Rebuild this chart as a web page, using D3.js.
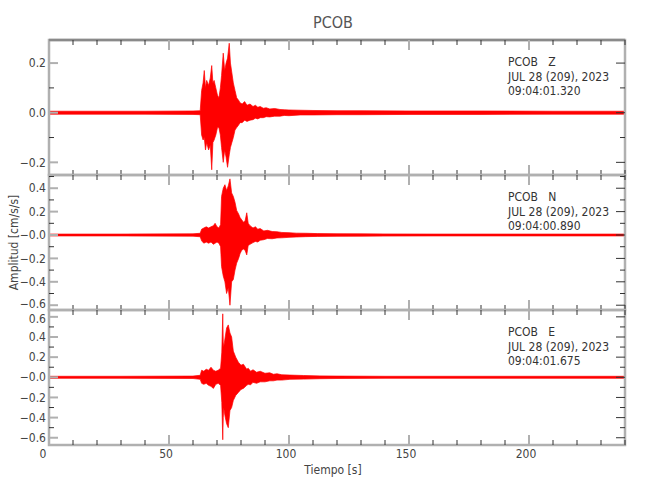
<!DOCTYPE html>
<html>
<head>
<meta charset="utf-8">
<script src="https://cdn.jsdelivr.net/npm/d3@7"></script>
<style>
  body { margin: 0; background: #fff; }
  svg text { font-family: "Liberation Sans Narrow", "DejaVu Sans Condensed", "Liberation Sans", sans-serif; fill: #444; }
</style>
</head>
<body>
<svg id="chart" width="650" height="500"></svg>
<script>
// station / header text
const station = 'PCOB'
const dateText = 'JUL 28 (209), 2023'

// time axis
const timeDomain = [0, 240]
const timeTicks = [0, 50, 100, 150, 200]
const timeMinor = d3.range(10, 241, 10).filter((t) => t % 50 !== 0)

// Z component: envelope (max / min per time point)
const zTime = [0, 20, 40, 60, 63, 63.6, 64.2, 64.7, 65.2, 65.7, 66.5, 67.2, 67.8, 68.3, 68.8, 69.5, 70.2, 70.8, 71.4, 71.9, 72.6, 73.2, 73.8, 74.4, 75.1, 75.6, 76.2, 76.8, 77.5, 78.2, 79.0, 79.6, 80.5, 81.5, 82.5, 83.75, 85, 86, 87, 88, 89.3, 90.5, 92, 94, 96.25, 98, 100, 104.6, 110, 120, 130, 150, 180, 210, 240]
const zHigh = [0.006, 0.006, 0.006, 0.007, 0.008, 0.09, 0.12, 0.17, 0.10, 0.13, 0.11, 0.14, 0.19, 0.12, 0.13, 0.10, 0.07, 0.06, 0.10, 0.15, 0.24, 0.17, 0.20, 0.22, 0.28, 0.20, 0.16, 0.12, 0.09, 0.06, 0.05, 0.04, 0.035, 0.045, 0.03, 0.035, 0.025, 0.03, 0.022, 0.025, 0.018, 0.02, 0.015, 0.017, 0.013, 0.012, 0.011, 0.01, 0.009, 0.008, 0.008, 0.007, 0.007, 0.006, 0.006]
const zLow = [-0.006, -0.006, -0.006, -0.007, -0.008, -0.09, -0.11, -0.10, -0.15, -0.12, -0.15, -0.13, -0.23, -0.12, -0.11, -0.09, -0.06, -0.06, -0.09, -0.14, -0.20, -0.15, -0.18, -0.22, -0.17, -0.14, -0.12, -0.10, -0.07, -0.06, -0.05, -0.04, -0.04, -0.03, -0.035, -0.03, -0.028, -0.022, -0.025, -0.02, -0.02, -0.016, -0.017, -0.014, -0.014, -0.011, -0.012, -0.009, -0.009, -0.008, -0.008, -0.007, -0.007, -0.006, -0.006]
const zDomain = [-0.251, 0.293]
const zTicks = [-0.2, 0, 0.2]
const zTickLabels = ['\u22120.2', '0.0', '0.2']
const zMinor = [-0.1, 0.1]

// N component
const nTime = [0, 30, 60, 63, 63.6, 64.5, 65.5, 66.5, 67.5, 68.5, 69.2, 70, 70.8, 71.5, 71.9, 72.6, 73.3, 74.0, 74.7, 75.4, 76.1, 76.8, 77.5, 78.2, 79.0, 79.6, 80.3, 81.0, 81.7, 82.4, 83, 83.75, 85, 86, 87, 88, 89.5, 91, 93, 95, 97, 100, 103, 107, 112, 120, 130, 140, 160, 200, 240]
const nHigh = [0.008, 0.008, 0.01, 0.015, 0.05, 0.06, 0.07, 0.06, 0.07, 0.08, 0.10, 0.07, 0.06, 0.09, 0.33, 0.40, 0.43, 0.38, 0.42, 0.48, 0.36, 0.33, 0.28, 0.21, 0.18, 0.15, 0.13, 0.11, 0.12, 0.19, 0.10, 0.08, 0.06, 0.07, 0.05, 0.055, 0.035, 0.04, 0.03, 0.028, 0.022, 0.02, 0.016, 0.015, 0.012, 0.011, 0.01, 0.009, 0.008, 0.008, 0.008]
const nLow = [-0.008, -0.008, -0.01, -0.015, -0.05, -0.07, -0.06, -0.07, -0.06, -0.08, -0.07, -0.06, -0.07, -0.10, -0.27, -0.35, -0.40, -0.50, -0.45, -0.60, -0.40, -0.38, -0.30, -0.24, -0.20, -0.16, -0.13, -0.12, -0.13, -0.17, -0.09, -0.08, -0.065, -0.055, -0.06, -0.045, -0.04, -0.03, -0.032, -0.025, -0.024, -0.02, -0.017, -0.014, -0.012, -0.011, -0.01, -0.009, -0.008, -0.008, -0.008]
const nDomain = [-0.641, 0.513]
const nTicks = [-0.6, -0.4, -0.2, 0, 0.2, 0.4]
const nTickLabels = ['\u22120.6', '\u22120.4', '\u22120.2', '\u22120.0', '0.2', '0.4']
const nMinor = [-0.5, -0.3, -0.1, 0.1, 0.3, 0.5]

// E component
const eTime = [0, 30, 60, 63, 63.6, 64.5, 65.5, 66.5, 67.5, 68.5, 69.5, 70.5, 71.5, 72.0, 72.4, 72.6, 72.8, 73.3, 74.0, 74.7, 75.4, 76.1, 76.8, 77.8, 78.9, 80, 81, 82.4, 83, 84, 85, 86.5, 88, 90, 92, 93.5, 95, 97, 100.4, 106, 112.9, 120, 140, 170, 200, 240]
const eHigh = [0.01, 0.01, 0.012, 0.02, 0.07, 0.06, 0.08, 0.07, 0.10, 0.07, 0.06, 0.07, 0.09, 0.25, 0.63, 0.35, 0.30, 0.38, 0.49, 0.52, 0.44, 0.40, 0.26, 0.20, 0.15, 0.12, 0.13, 0.08, 0.09, 0.06, 0.075, 0.05, 0.06, 0.04, 0.045, 0.03, 0.035, 0.025, 0.022, 0.018, 0.014, 0.012, 0.01, 0.01, 0.01, 0.01]
const eLow = [-0.01, -0.01, -0.012, -0.02, -0.06, -0.07, -0.06, -0.08, -0.09, -0.11, -0.07, -0.06, -0.08, -0.25, -0.62, -0.40, -0.30, -0.38, -0.46, -0.50, -0.33, -0.30, -0.23, -0.18, -0.15, -0.12, -0.11, -0.08, -0.07, -0.075, -0.05, -0.06, -0.045, -0.045, -0.035, -0.035, -0.028, -0.028, -0.02, -0.018, -0.014, -0.012, -0.01, -0.01, -0.01, -0.01]
const eDomain = [-0.672, 0.668]
const eTicks = [-0.6, -0.4, -0.2, 0, 0.2, 0.4, 0.6]
const eTickLabels = ['\u22120.6', '\u22120.4', '\u22120.2', '\u22120.0', '0.2', '0.4', '0.6']
const eMinor = [-0.5, -0.3, -0.1, 0.1, 0.3, 0.5]

const panels = [
  { comp: 'Z', time: zTime, high: zHigh, low: zLow, domain: zDomain, ticks: zTicks, labels: zTickLabels, minor: zMinor, clock: '09:04:01.320' },
  { comp: 'N', time: nTime, high: nHigh, low: nLow, domain: nDomain, ticks: nTicks, labels: nTickLabels, minor: nMinor, clock: '09:04:00.890' },
  { comp: 'E', time: eTime, high: eHigh, low: eLow, domain: eDomain, ticks: eTicks, labels: eTickLabels, minor: eMinor, clock: '09:04:01.675' },
]

const plotLeft = 49
const plotRight = 625
const plotTop = 40
const panelH = 135
const frameColor = '#b0b0b0'
const minorColor = '#333'

const svg = d3.select('#chart')
const x = d3.scaleLinear().domain(timeDomain).range([plotLeft, plotRight])

svg.append('text')
  .attr('x', 333).attr('y', 28)
  .attr('text-anchor', 'middle')
  .attr('font-size', 16)
  .style('fill', '#555')
  .text(station)

panels.forEach((p, i) => {
  const y0 = plotTop + i * panelH
  const y = d3.scaleLinear().domain(p.domain).range([y0 + panelH, y0])
  const g = svg.append('g')

  // trace envelope
  const idx = d3.range(p.time.length)
  const area = d3.area()
    .x((k) => x(p.time[k]))
    .y0((k) => y(p.low[k]))
    .y1((k) => y(p.high[k]))
  g.append('path')
    .datum(idx)
    .attr('d', area)
    .attr('fill', '#ff0000')
    .attr('stroke', '#ff0000')
    .attr('stroke-width', 0.7)

  // frame
  g.append('rect')
    .attr('x', plotLeft).attr('y', y0)
    .attr('width', plotRight - plotLeft).attr('height', panelH)
    .attr('fill', 'none')
    .attr('stroke', frameColor)
    .attr('stroke-width', 2.5)
  if (i === 0) {
    g.append('line')
      .attr('x1', plotLeft).attr('x2', plotRight)
      .attr('y1', y0).attr('y2', y0)
      .attr('stroke', '#8a8a8a')
      .attr('stroke-width', 2.5)
  }

  // x ticks top and bottom
  const tickG = g.append('g')
  ;[y0, y0 + panelH].forEach((yy, j) => {
    const dir = j === 0 ? 1 : -1
    tickG.selectAll(null).data(timeMinor).enter().append('line')
      .attr('x1', (d) => x(d)).attr('x2', (d) => x(d))
      .attr('y1', yy).attr('y2', yy + dir * 5)
      .attr('stroke', minorColor).attr('stroke-width', 1)
    tickG.selectAll(null).data(timeTicks.slice(1)).enter().append('line')
      .attr('x1', (d) => x(d)).attr('x2', (d) => x(d))
      .attr('y1', yy).attr('y2', yy + dir * 10)
      .attr('stroke', frameColor).attr('stroke-width', 2)
  })

  // y ticks left and right
  tickG.selectAll(null).data(p.minor).enter().append('line')
    .attr('x1', plotLeft).attr('x2', plotLeft + 5)
    .attr('y1', (d) => y(d)).attr('y2', (d) => y(d))
    .attr('stroke', minorColor).attr('stroke-width', 1)
  tickG.selectAll(null).data(p.ticks).enter().append('line')
    .attr('x1', plotLeft).attr('x2', plotLeft + 9)
    .attr('y1', (d) => y(d)).attr('y2', (d) => y(d))
    .attr('stroke', frameColor).attr('stroke-width', 2)
  tickG.selectAll(null).data(p.minor).enter().append('line')
    .attr('x1', plotRight).attr('x2', plotRight - 5)
    .attr('y1', (d) => y(d)).attr('y2', (d) => y(d))
    .attr('stroke', minorColor).attr('stroke-width', 1)
  tickG.selectAll(null).data(p.ticks).enter().append('line')
    .attr('x1', plotRight).attr('x2', plotRight - 9)
    .attr('y1', (d) => y(d)).attr('y2', (d) => y(d))
    .attr('stroke', minorColor).attr('stroke-width', 1)

  // y tick labels (labels hugging a panel edge are nudged inward a little)
  g.selectAll(null).data(p.ticks).enter().append('text')
    .attr('x', plotLeft - 3)
    .attr('y', (d) => {
      const yy = y(d)
      if (yy - y0 < 7) return yy + 1.5
      if (y0 + panelH - yy < 7) return yy - 1.5
      return yy
    })
    .attr('dy', '0.35em')
    .attr('text-anchor', 'end')
    .attr('font-size', 12)
    .text((d, k) => p.labels[k])

  // header block
  const lines = [station + '   ' + p.comp, dateText, p.clock]
  g.selectAll(null).data(lines).enter().append('text')
    .attr('x', 508)
    .attr('y', (d, k) => y0 + 26 + k * 14.5)
    .attr('font-size', 12)
    .style('fill', '#333')
    .style('white-space', 'pre')
    .text((d) => d)
})

// bottom x labels
const bottomY = plotTop + 3 * panelH
svg.selectAll(null).data(timeTicks).enter().append('text')
  .attr('x', (d) => x(d) - (d === 0 ? 6 : 3))
  .attr('y', bottomY + 13)
  .attr('text-anchor', 'middle')
  .attr('font-size', 12)
  .text((d) => d)

svg.append('text')
  .attr('x', 333).attr('y', bottomY + 29)
  .attr('text-anchor', 'middle')
  .attr('font-size', 12)
  .text('Tiempo [s]')

svg.append('text')
  .attr('transform', `translate(18, ${plotTop + 1.5 * panelH}) rotate(-90)`)
  .attr('text-anchor', 'middle')
  .attr('font-size', 12)
  .text('Amplitud [cm/s/s]')
</script>
</body>
</html>
